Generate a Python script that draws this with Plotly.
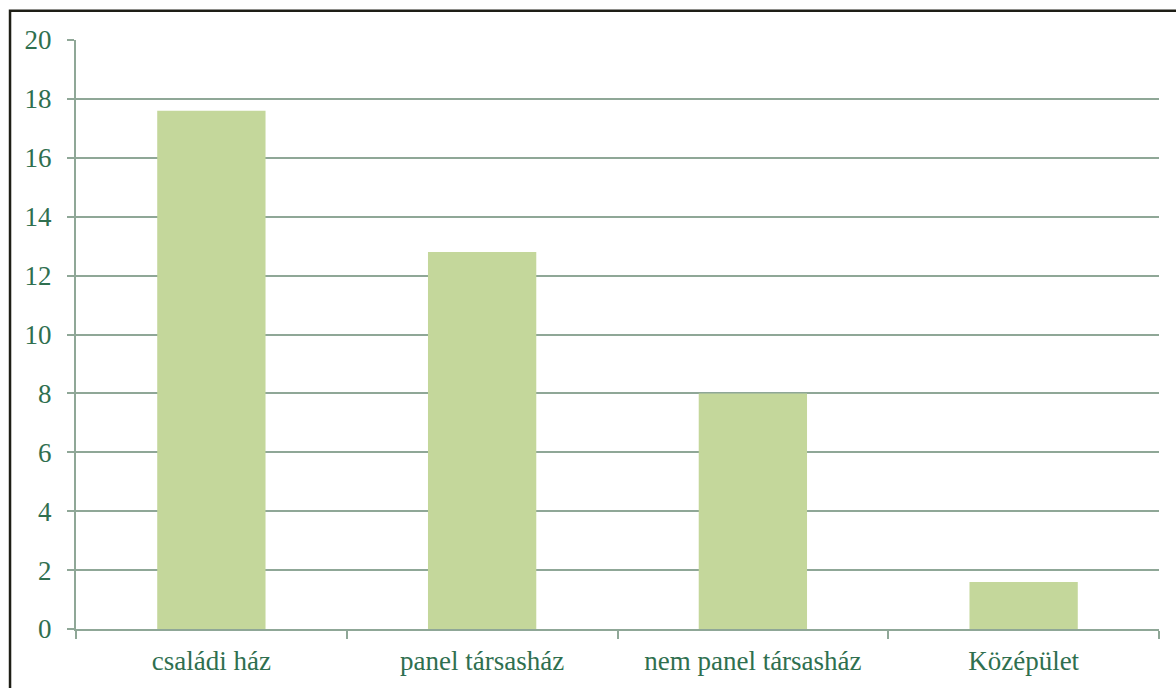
import plotly.graph_objects as go

categories = ["családi ház", "panel társasház", "nem panel társasház", "Középület"]
values = [17.6, 12.8, 8.0, 1.6]
y_ticks = [0, 2, 4, 6, 8, 10, 12, 14, 16, 18, 20]

TEXT = "#2f6f4f"
GRID = "#8fa797"
BAR = "#c4d79b"
FONT = "'Liberation Serif', 'Times New Roman', serif"
FS = 27

W, H = 1176, 688
L, R, T, B = 75.5, 17, 39.5, 59
pw, ph = W - L - R, H - T - B

fig = go.Figure(go.Bar(x=categories, y=values, marker=dict(color=BAR, line=dict(width=0))))

fig.update_layout(
    width=W, height=H,
    margin=dict(l=L, r=R, t=T, b=B, pad=0),
    plot_bgcolor="white", paper_bgcolor="white",
    bargap=0.6, showlegend=False,
    font=dict(family=FONT, size=FS, color=TEXT),
)
fig.update_xaxes(
    type="category", tickson="boundaries",
    showline=True, linecolor=GRID, linewidth=2,
    ticks="outside", ticklen=8, tickwidth=2, tickcolor=GRID,
    showgrid=False, ticklabelstandoff=7,
    tickfont=dict(family=FONT, size=FS, color=TEXT),
)
fig.update_yaxes(
    range=[0, 20], tickvals=y_ticks,
    showline=True, linecolor=GRID, linewidth=2,
    ticks="outside", ticklen=7, tickwidth=2, tickcolor=GRID,
    showgrid=True, gridcolor=GRID, gridwidth=2,
    zeroline=False, ticklabelstandoff=10,
    tickfont=dict(family=FONT, size=FS, color=TEXT),
)

# outer frame around the chart (left and top edges visible)
x0 = (9.5 - L) / pw
y1 = (H - B - 10.3) / ph
fig.add_shape(type="rect", xref="paper", yref="paper",
              x0=x0, x1=1.2, y0=-0.3, y1=y1,
              line=dict(color="#1e1e16", width=2.5), layer="above")

fig.write_html("out.html")
